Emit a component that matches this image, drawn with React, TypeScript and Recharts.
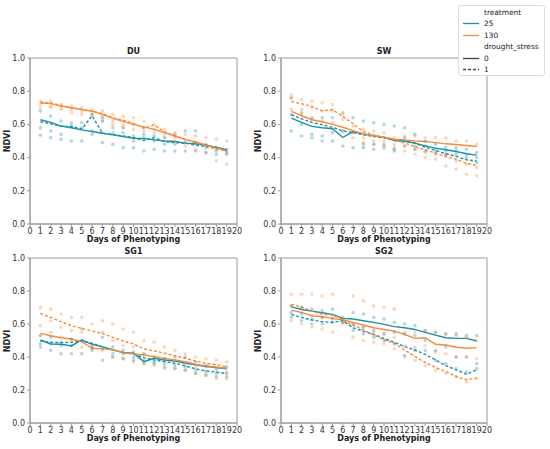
import { ComposedChart, Line, Scatter, XAxis, YAxis, ReferenceArea } from "recharts";

const TEAL = "#1e8fa5";
const ORANGE = "#f98a3c";
const FRAME = "#9a9a9a";
const FONT = "DejaVu Sans, sans-serif";

const days = [1, 2, 3, 4, 5, 6, 7, 8, 9, 10, 11, 12, 13, 14, 15, 16, 17, 18, 19];
const dayTicks = [0, 1, 2, 3, 4, 5, 6, 7, 8, 9, 10, 11, 12, 13, 14, 15, 16, 17, 18, 19, 20];
const ndviTicks = [0, 0.2, 0.4, 0.6, 0.8, 1.0];

// DU
const du25Wet = [0.628, 0.612, 0.59, 0.58, 0.567, 0.557, 0.547, 0.537, 0.527, 0.517, 0.515, 0.507, 0.5, 0.497, 0.487, 0.483, 0.475, 0.463, 0.447];
const du25Dry = [0.617, 0.604, 0.588, 0.588, 0.572, 0.652, 0.547, 0.54, 0.53, 0.52, 0.503, 0.52, 0.497, 0.49, 0.487, 0.475, 0.467, 0.455, 0.443];
const du130Wet = [0.728, 0.725, 0.71, 0.7, 0.69, 0.68, 0.66, 0.636, 0.618, 0.6, 0.585, 0.57, 0.55, 0.53, 0.51, 0.495, 0.477, 0.46, 0.44];
const du130Dry = [0.735, 0.73, 0.715, 0.7, 0.69, 0.68, 0.665, 0.64, 0.625, 0.605, 0.577, 0.597, 0.555, 0.53, 0.51, 0.49, 0.475, 0.455, 0.44];
const du25Reps = [
  [0.68, 0.65, 0.62, 0.61, 0.61, 0.66, 0.64, 0.58, 0.58, 0.53, 0.54, 0.53, 0.52, 0.54, 0.56, 0.56, 0.48, 0.46, 0.45],
  [0.58, 0.56, 0.54, 0.59, 0.58, 0.56, 0.62, 0.55, 0.55, 0.5, 0.52, 0.5, 0.48, 0.48, 0.49, 0.49, 0.46, 0.44, 0.43],
  [0.535, 0.52, 0.51, 0.5, 0.5, 0.54, 0.49, 0.48, 0.46, 0.46, 0.44, 0.45, 0.44, 0.44, 0.44, 0.44, 0.43, 0.42, 0.42],
];
const du130Reps = [
  [0.74, 0.74, 0.72, 0.71, 0.7, 0.69, 0.68, 0.66, 0.65, 0.64, 0.62, 0.6, 0.57, 0.55, 0.54, 0.53, 0.52, 0.51, 0.5],
  [0.72, 0.71, 0.7, 0.69, 0.68, 0.67, 0.65, 0.62, 0.6, 0.6, 0.58, 0.57, 0.54, 0.52, 0.5, 0.49, 0.47, 0.45, 0.44],
  [0.7, 0.7, 0.69, 0.67, 0.66, 0.66, 0.62, 0.6, 0.58, 0.57, 0.56, 0.55, 0.52, 0.5, 0.47, 0.45, 0.43, 0.38, 0.36],
];

// SW
const sw25Wet = [0.638, 0.612, 0.588, 0.58, 0.574, 0.521, 0.557, 0.543, 0.531, 0.523, 0.503, 0.5, 0.487, 0.471, 0.457, 0.447, 0.437, 0.423, 0.415];
const sw25Dry = [0.658, 0.634, 0.612, 0.598, 0.582, 0.561, 0.551, 0.537, 0.527, 0.519, 0.503, 0.497, 0.487, 0.463, 0.443, 0.423, 0.407, 0.386, 0.38];
const sw130Wet = [0.678, 0.652, 0.628, 0.616, 0.6, 0.583, 0.563, 0.543, 0.531, 0.523, 0.511, 0.507, 0.5, 0.497, 0.49, 0.483, 0.479, 0.473, 0.467];
const sw130Dry = [0.738, 0.724, 0.708, 0.682, 0.688, 0.648, 0.604, 0.557, 0.537, 0.523, 0.507, 0.487, 0.467, 0.447, 0.427, 0.407, 0.39, 0.366, 0.352];
const sw25Reps = [
  [0.76, 0.67, 0.64, 0.64, 0.64, 0.67, 0.64, 0.62, 0.61, 0.6, 0.59, 0.58, 0.54, 0.5, 0.48, 0.46, 0.46, 0.45, 0.43],
  [0.66, 0.6, 0.54, 0.53, 0.55, 0.56, 0.55, 0.48, 0.48, 0.48, 0.45, 0.52, 0.47, 0.47, 0.45, 0.44, 0.44, 0.42, 0.4],
  [0.56, 0.53, 0.52, 0.5, 0.5, 0.47, 0.46, 0.46, 0.45, 0.46, 0.44, 0.47, 0.45, 0.44, 0.43, 0.42, 0.42, 0.4, 0.37],
];
const sw130Reps = [
  [0.78, 0.75, 0.74, 0.73, 0.72, 0.66, 0.59, 0.57, 0.56, 0.55, 0.52, 0.53, 0.53, 0.52, 0.52, 0.52, 0.5, 0.5, 0.48],
  [0.76, 0.69, 0.7, 0.68, 0.68, 0.63, 0.55, 0.52, 0.5, 0.5, 0.48, 0.47, 0.45, 0.43, 0.42, 0.41, 0.38, 0.36, 0.34],
  [0.69, 0.66, 0.63, 0.62, 0.61, 0.56, 0.52, 0.49, 0.48, 0.47, 0.46, 0.44, 0.42, 0.4, 0.39, 0.35, 0.33, 0.3, 0.29],
];

// SG1
const sg1_25Wet = [0.503, 0.479, 0.477, 0.467, 0.503, 0.477, 0.461, 0.443, 0.427, 0.423, 0.372, 0.392, 0.382, 0.376, 0.362, 0.352, 0.342, 0.336, 0.328];
const sg1_25Dry = [0.497, 0.489, 0.487, 0.489, 0.497, 0.483, 0.463, 0.443, 0.427, 0.417, 0.396, 0.382, 0.372, 0.362, 0.346, 0.328, 0.316, 0.308, 0.3];
const sg1_130Wet = [0.543, 0.529, 0.517, 0.509, 0.493, 0.453, 0.449, 0.443, 0.427, 0.419, 0.412, 0.402, 0.392, 0.382, 0.372, 0.356, 0.346, 0.338, 0.332];
const sg1_130Dry = [0.664, 0.64, 0.614, 0.59, 0.573, 0.557, 0.543, 0.519, 0.497, 0.479, 0.449, 0.437, 0.423, 0.408, 0.392, 0.376, 0.362, 0.352, 0.342];
const sg1_25Reps = [
  [0.53, 0.52, 0.49, 0.51, 0.57, 0.48, 0.52, 0.46, 0.44, 0.43, 0.42, 0.4, 0.39, 0.4, 0.4, 0.37, 0.35, 0.33, 0.34],
  [0.48, 0.48, 0.47, 0.47, 0.5, 0.46, 0.45, 0.42, 0.42, 0.4, 0.38, 0.37, 0.36, 0.35, 0.34, 0.32, 0.31, 0.3, 0.3],
  [0.46, 0.44, 0.42, 0.42, 0.42, 0.44, 0.38, 0.4, 0.39, 0.38, 0.36, 0.36, 0.34, 0.33, 0.32, 0.3, 0.29, 0.28, 0.28],
];
const sg1_130Reps = [
  [0.7, 0.69, 0.66, 0.64, 0.64, 0.6, 0.62, 0.6, 0.57, 0.55, 0.5, 0.49, 0.46, 0.44, 0.42, 0.4, 0.39, 0.38, 0.37],
  [0.59, 0.62, 0.58, 0.56, 0.55, 0.47, 0.55, 0.5, 0.47, 0.46, 0.42, 0.4, 0.39, 0.38, 0.36, 0.34, 0.34, 0.32, 0.31],
  [0.53, 0.55, 0.52, 0.5, 0.46, 0.45, 0.44, 0.4, 0.39, 0.37, 0.36, 0.35, 0.33, 0.33, 0.32, 0.3, 0.29, 0.27, 0.27],
];

// SG2
const sg2_25Wet = [0.704, 0.688, 0.678, 0.668, 0.658, 0.634, 0.63, 0.62, 0.61, 0.598, 0.584, 0.577, 0.567, 0.549, 0.533, 0.517, 0.513, 0.513, 0.497];
const sg2_25Dry = [0.658, 0.64, 0.624, 0.614, 0.61, 0.62, 0.577, 0.557, 0.537, 0.513, 0.489, 0.463, 0.443, 0.416, 0.382, 0.348, 0.322, 0.296, 0.322];
const sg2_130Wet = [0.684, 0.67, 0.65, 0.644, 0.634, 0.624, 0.61, 0.594, 0.577, 0.567, 0.557, 0.537, 0.513, 0.517, 0.477, 0.473, 0.459, 0.453, 0.457];
const sg2_130Dry = [0.718, 0.704, 0.678, 0.658, 0.654, 0.624, 0.594, 0.563, 0.533, 0.503, 0.483, 0.443, 0.402, 0.368, 0.336, 0.312, 0.282, 0.262, 0.272];
const sg2_25Reps = [
  [0.71, 0.7, 0.69, 0.68, 0.69, 0.64, 0.67, 0.66, 0.64, 0.63, 0.61, 0.6, 0.59, 0.56, 0.55, 0.54, 0.54, 0.53, 0.53],
  [0.67, 0.66, 0.63, 0.64, 0.63, 0.62, 0.6, 0.58, 0.56, 0.54, 0.55, 0.54, 0.53, 0.5, 0.44, 0.46, 0.4, 0.4, 0.36],
  [0.64, 0.62, 0.6, 0.6, 0.61, 0.61, 0.56, 0.54, 0.52, 0.5, 0.48, 0.41, 0.44, 0.44, 0.38, 0.36, 0.33, 0.31, 0.33],
];
const sg2_130Reps = [
  [0.78, 0.78, 0.78, 0.77, 0.78, 0.63, 0.77, 0.74, 0.71, 0.7, 0.69, 0.55, 0.55, 0.56, 0.55, 0.54, 0.53, 0.52, 0.5],
  [0.71, 0.7, 0.65, 0.64, 0.64, 0.61, 0.6, 0.58, 0.55, 0.54, 0.52, 0.47, 0.46, 0.47, 0.43, 0.42, 0.4, 0.4, 0.39],
  [0.62, 0.6, 0.58, 0.57, 0.55, 0.6, 0.52, 0.5, 0.49, 0.48, 0.45, 0.4, 0.38, 0.35, 0.32, 0.3, 0.28, 0.25, 0.27],
];

const treatmentLabels = ["25", "130"];
const stressLabels = ["0", "1"];

function toPoints(reps: number[][]) {
  return reps.flatMap((r) => r.map((v, i) => ({ day: days[i], v })));
}

function dot(color: string) {
  return (p: any) => <circle cx={p.cx} cy={p.cy} r={1.8} fill={color} fillOpacity={0.35} />;
}

interface PanelProps {
  title: string;
  left: number;
  top: number;
  w: number;
  h: number;
  wet25: number[];
  dry25: number[];
  wet130: number[];
  dry130: number[];
  reps25: number[][];
  reps130: number[][];
}

function Panel({ title, left, top, w, h, wet25, dry25, wet130, dry130, reps25, reps130 }: PanelProps) {
  const rows = days.map((day, i) => ({
    day,
    wet25: wet25[i],
    dry25: dry25[i],
    wet130: wet130[i],
    dry130: dry130[i],
  }));
  const txt = { fontFamily: FONT, fontSize: 8, color: "#222", position: "absolute" as const, lineHeight: "10px" };

  return (
    <>
      <div style={{ ...txt, left, top: top - 11, width: w, textAlign: "center", fontWeight: "bold" }}>{title}</div>
      <div style={{ ...txt, left, top: top + h + 11, width: w, textAlign: "center", fontWeight: "bold" }}>
        Days of Phenotyping
      </div>
      <div
        style={{
          ...txt,
          left: left - 22 - 20,
          top: top + h / 2 - 5,
          width: 40,
          textAlign: "center",
          fontWeight: "bold",
          transform: "rotate(-90deg)",
        }}
      >
        NDVI
      </div>
      <div style={{ position: "absolute", left: left - 30, top: top - 10 }}>
        <ComposedChart width={w + 35} height={h + 30} data={rows} margin={{ top: 10, right: 5, bottom: 0, left: 0 }}>
          <XAxis
            dataKey="day"
            type="number"
            domain={[0, 20]}
            ticks={dayTicks}
            interval={0}
            height={20}
            tickSize={3}
            tickMargin={1}
            stroke={FRAME}
            tick={{ fontSize: 8, fill: "#333", fontFamily: FONT }}
          />
          <YAxis
            type="number"
            domain={[0, 1]}
            ticks={ndviTicks}
            tickFormatter={(v: number) => v.toFixed(1)}
            width={30}
            tickSize={3}
            tickMargin={2}
            stroke={FRAME}
            tick={{ fontSize: 8, fill: "#333", fontFamily: FONT }}
          />
          <Scatter data={toPoints(reps25)} dataKey="v" fill={TEAL} shape={dot(TEAL)} isAnimationActive={false} />
          <Scatter data={toPoints(reps130)} dataKey="v" fill={ORANGE} shape={dot(ORANGE)} isAnimationActive={false} />
          <Line dataKey="wet25" stroke={TEAL} strokeWidth={1.4} dot={false} isAnimationActive={false} />
          <Line dataKey="dry25" stroke={TEAL} strokeWidth={1.4} strokeDasharray="3 2" dot={false} isAnimationActive={false} />
          <Line dataKey="wet130" stroke={ORANGE} strokeWidth={1.4} dot={false} isAnimationActive={false} />
          <Line dataKey="dry130" stroke={ORANGE} strokeWidth={1.4} strokeDasharray="3 2" dot={false} isAnimationActive={false} />
          <ReferenceArea x1={0} x2={20} y1={0} y2={1} fill="none" stroke={FRAME} strokeWidth={1} />
        </ComposedChart>
      </div>
    </>
  );
}

function LegendBox() {
  const row = (label: string, i: number, handle?: JSX.Element) => (
    <div key={label + i} style={{ position: "absolute", left: 0, top: 1 + i * 11.4, height: 11, width: 87 }}>
      {handle && <svg width={18} height={11} style={{ position: "absolute", left: 3, top: 0 }}>{handle}</svg>}
      <span style={{ position: "absolute", left: 25, top: 0, lineHeight: "11px", whiteSpace: "nowrap" }}>{label}</span>
    </div>
  );
  return (
    <div
      style={{
        position: "absolute",
        left: 458,
        top: 5,
        width: 87,
        height: 71,
        border: "1px solid #dcdcdc",
        borderRadius: 3,
        background: "#fff",
        fontFamily: FONT,
        fontSize: 7.4,
        color: "#222",
        boxSizing: "border-box",
      }}
    >
      {row("treatment", 0)}
      {treatmentLabels.map((t, k) =>
        row(t, k + 1, <line x1={1} x2={17} y1={5.5} y2={5.5} stroke={k === 0 ? TEAL : ORANGE} strokeWidth={1.3} />)
      )}
      {row("drought_stress", 3)}
      {stressLabels.map((s, k) =>
        row(
          s,
          k + 4,
          <line x1={1} x2={17} y1={5.5} y2={5.5} stroke="#444" strokeWidth={1.3} strokeDasharray={k === 0 ? undefined : "3 2"} />
        )
      )}
    </div>
  );
}

export default function App() {
  return (
    <div style={{ position: "absolute", left: 0, top: 0, width: 550, height: 449, background: "#fff" }}>
      <Panel title="DU" left={30} top={58} w={207} h={166} wet25={du25Wet} dry25={du25Dry} wet130={du130Wet} dry130={du130Dry} reps25={du25Reps} reps130={du130Reps} />
      <Panel title="SW" left={281} top={58} w={206} h={166} wet25={sw25Wet} dry25={sw25Dry} wet130={sw130Wet} dry130={sw130Dry} reps25={sw25Reps} reps130={sw130Reps} />
      <Panel title="SG1" left={30} top={258} w={207} h={165} wet25={sg1_25Wet} dry25={sg1_25Dry} wet130={sg1_130Wet} dry130={sg1_130Dry} reps25={sg1_25Reps} reps130={sg1_130Reps} />
      <Panel title="SG2" left={281} top={258} w={206} h={165} wet25={sg2_25Wet} dry25={sg2_25Dry} wet130={sg2_130Wet} dry130={sg2_130Dry} reps25={sg2_25Reps} reps130={sg2_130Reps} />
      <LegendBox />
    </div>
  );
}
